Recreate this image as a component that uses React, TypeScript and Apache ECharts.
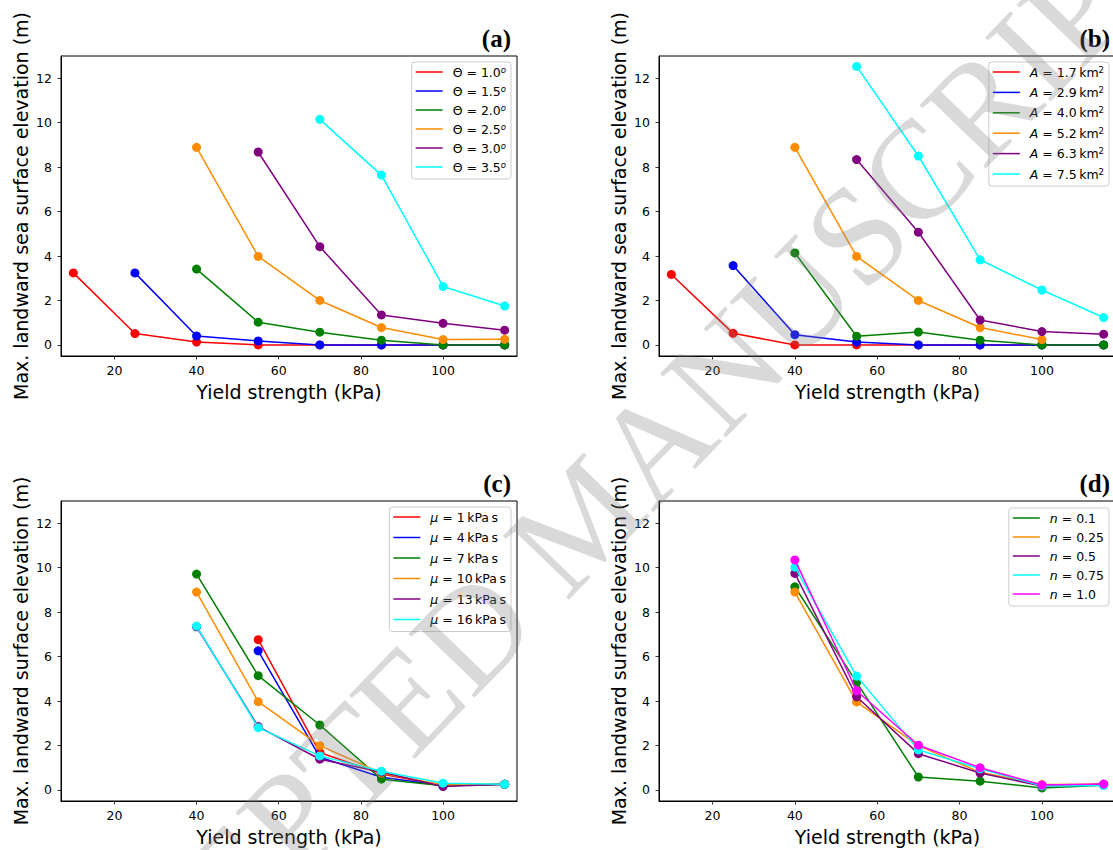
import React, { useEffect, useRef } from 'react';
import * as echarts from 'echarts';

// ---------- data ----------
const yieldStrength = [10, 25, 40, 55, 70, 85, 100, 115];
const xTicks = [20, 40, 60, 80, 100];
const yTicks = [0, 2, 4, 6, 8, 10, 12];
const xTitle = 'Yield strength (kPa)';
const yTitles = [
  'Max. landward sea surface elevation (m)',
  'Max. landward sea surface elevation (m)',
  'Max. landward surface elevation (m)',
  'Max. landward surface elevation (m)',
];
const panelLetters = ['(a)', '(b)', '(c)', '(d)'];

// (a) slope angle
const thetaLabels = ['1.0', '1.5', '2.0', '2.5', '3.0', '3.5'];
const theta10 = [3.24, 0.51, 0.13, 0.0, 0.0, 0.0, 0.0, 0.0];
const theta15 = [null, 3.24, 0.4, 0.18, 0.0, 0.0, 0.0, 0.0];
const theta20 = [null, null, 3.41, 1.02, 0.57, 0.21, 0.0, 0.0];
const theta25 = [null, null, 8.89, 3.98, 2.0, 0.78, 0.24, 0.25];
const theta30 = [null, null, null, 8.68, 4.42, 1.35, 0.97, 0.66];
const theta35 = [null, null, null, null, 10.15, 7.64, 2.63, 1.75];

// (b) slide area
const areaLabels = ['1.7', '2.9', '4.0', '5.2', '6.3', '7.5'];
const area17 = [3.17, 0.52, 0.0, 0.0, 0.0, 0.0, 0.0, 0.0];
const area29 = [null, 3.57, 0.46, 0.13, 0.0, 0.0, 0.0, 0.0];
const area40 = [null, null, 4.14, 0.39, 0.58, 0.21, 0.0, 0.0];
const area52 = [null, null, 8.89, 3.98, 2.0, 0.78, 0.24, null];
const area63 = [null, null, null, 8.34, 5.07, 1.12, 0.6, 0.48];
const area75 = [null, null, null, 12.53, 8.5, 3.83, 2.47, 1.23];

// (c) viscosity
const muLabels = ['1', '4', '7', '10', '13', '16'];
const mu1 = [null, null, null, 6.76, 1.68, 0.72, 0.2, 0.25];
const mu4 = [null, null, null, 6.26, 1.47, 0.57, 0.2, 0.25];
const mu7 = [null, null, 9.71, 5.14, 2.92, 0.48, 0.19, 0.25];
const mu10 = [null, null, 8.9, 3.97, 1.99, 0.76, 0.22, 0.25];
const mu13 = [null, null, 7.34, 2.85, 1.38, 0.8, 0.15, 0.25];
const mu16 = [null, null, 7.37, 2.8, 1.53, 0.84, 0.3, 0.25];

// (d) flow index
const nLabels = ['0.1', '0.25', '0.5', '0.75', '1.0'];
const n01 = [null, null, 9.14, 4.84, 0.58, 0.39, 0.09, 0.21];
const n025 = [null, null, 8.9, 3.96, 1.99, 0.79, 0.24, 0.25];
const n05 = [null, null, 9.74, 4.19, 1.63, 0.76, 0.17, 0.25];
const n075 = [null, null, 10.02, 5.12, 1.8, 0.95, 0.18, 0.2];
const n10 = [null, null, 10.35, 4.46, 2.01, 1.0, 0.22, 0.26];

const watermark = 'ACCEPTED MANUSCRIPT';

// ---------- styling ----------
const RED = '#ff0000';
const BLUE = '#0000ff';
const GREEN = '#008000';
const ORANGE = '#ff8c00';
const PURPLE = '#800080';
const CYAN = '#00ffff';
const MAGENTA = '#ff00ff';
const FONT = '"DejaVu Sans", sans-serif';
const SERIF = '"Liberation Serif", "DejaVu Serif", serif';

const panels = [
  {
    names: thetaLabels.map((t) => `Θ = ${t}`),
    rich: thetaLabels.map((t) => `{g| }Θ = ${t}{supi|o}`),
    values: [theta10, theta15, theta20, theta25, theta30, theta35],
    colors: [RED, BLUE, GREEN, ORANGE, PURPLE, CYAN],
  },
  {
    names: areaLabels.map((a) => `A = ${a} km2`),
    rich: areaLabels.map((a) => `{g| }{i|A} = ${a}\u2009km{sup|2}`),
    values: [area17, area29, area40, area52, area63, area75],
    colors: [RED, BLUE, GREEN, ORANGE, PURPLE, CYAN],
  },
  {
    names: muLabels.map((m) => `μ = ${m} kPa s`),
    rich: muLabels.map((m) => `{g| }{i|μ} = ${m}\u2009kPa\u2009s`),
    values: [mu1, mu4, mu7, mu10, mu13, mu16],
    colors: [RED, BLUE, GREEN, ORANGE, PURPLE, CYAN],
  },
  {
    names: nLabels.map((v) => `n = ${v}`),
    rich: nLabels.map((v) => `{g| }{i|n} = ${v}`),
    values: [n01, n025, n05, n075, n10],
    colors: [GREEN, ORANGE, PURPLE, CYAN, MAGENTA],
  },
];

const grids = [
  { left: 61, top: 56, width: 456, height: 300 },
  { left: 659, top: 56, width: 457, height: 300 },
  { left: 61, top: 501, width: 456, height: 300 },
  { left: 659, top: 501, width: 457, height: 300 },
];
const legendPos = [
  { right: 602, top: 62, itemGap: 5 },
  { right: 4, top: 62, itemGap: 6.4 },
  { right: 602, top: 507, itemGap: 6.5 },
  { right: 4, top: 508, itemGap: 5 },
];

function pairs(vals: (number | null)[]) {
  return yieldStrength
    .map((x, i) => [x, vals[i]])
    .filter((p) => p[1] !== null && p[1] !== undefined);
}

export default function App() {
  const ref = useRef<HTMLDivElement>(null);

  useEffect(() => {
    if (!ref.current) return;
    const chart = echarts.init(ref.current, undefined, { renderer: 'svg' });

    const richMap: Record<string, string> = {};
    panels.forEach((p) => p.names.forEach((n, j) => (richMap[n] = p.rich[j])));

    const tickStyle = { color: '#000', width: 0.8 };
    const labelStyle = { fontSize: 12.5, fontFamily: FONT, color: '#000' };
    const nameStyle = { fontSize: 19, fontFamily: FONT, color: '#000' };

    const series: any[] = [];
    panels.forEach((p, i) => {
      p.values.forEach((vals, j) => {
        series.push({
          type: 'line',
          name: p.names[j],
          xAxisIndex: i,
          yAxisIndex: i,
          data: pairs(vals),
          symbol: 'circle',
          symbolSize: 9,
          showSymbol: true,
          itemStyle: { color: p.colors[j] },
          lineStyle: { color: p.colors[j], width: 1.5 },
          emphasis: { disabled: true },
          z: 2 + j,
        });
      });
    });

    const option: any = {
      animation: false,
      backgroundColor: '#ffffff',
      grid: grids.map((g) => ({
        ...g,
        show: true,
        borderColor: '#000',
        borderWidth: 1,
        backgroundColor: 'transparent',
        containLabel: false,
        outerBoundsMode: 'none',
      })),
      xAxis: grids.map((_, i) => ({
        type: 'value',
        gridIndex: i,
        min: 7,
        max: 118,
        name: xTitle,
        nameLocation: 'middle',
        nameGap: 26,
        nameTextStyle: nameStyle,
        axisLine: { show: true, onZero: false, lineStyle: { color: '#000', width: 1 } },
        axisTick: { show: true, inside: false, length: 3.5, lineStyle: tickStyle, customValues: xTicks },
        axisLabel: { ...labelStyle, margin: 8, customValues: xTicks },
        splitLine: { show: false },
      })),
      yAxis: grids.map((_, i) => ({
        type: 'value',
        gridIndex: i,
        min: -0.5,
        max: 13,
        name: yTitles[i],
        nameLocation: 'middle',
        nameGap: 31,
        nameRotate: 90,
        nameTextStyle: nameStyle,
        axisLine: { show: true, onZero: false, lineStyle: { color: '#000', width: 1 } },
        axisTick: { show: true, inside: false, length: 3.5, lineStyle: tickStyle, customValues: yTicks },
        axisLabel: { ...labelStyle, margin: 9, customValues: yTicks },
        splitLine: { show: false },
      })),
      legend: panels.map((p, i) => ({
        data: p.names,
        orient: 'vertical',
        right: legendPos[i].right,
        top: legendPos[i].top,
        itemGap: legendPos[i].itemGap,
        icon: 'rect',
        itemWidth: 27,
        itemHeight: 1.5,
        padding: [3, 5, 5, 4],
        backgroundColor: 'rgba(255,255,255,0.8)',
        borderColor: '#cccccc',
        borderWidth: 1,
        borderRadius: 3,
        selectedMode: false,
        itemStyle: { borderWidth: 0 },
        formatter: (name: string) => richMap[name] || name,
        textStyle: {
          fontSize: 12.5,
          fontFamily: FONT,
          color: '#000',
          lineHeight: 14,
          rich: {
            g: { width: 5, fontSize: 12.5, fontFamily: FONT, lineHeight: 14 },
            i: { fontStyle: 'italic', fontSize: 12.5, fontFamily: FONT, color: '#000', lineHeight: 14 },
            sup: { fontSize: 8.5, fontFamily: FONT, color: '#000', verticalAlign: 'top', lineHeight: 9 },
            supi: { fontSize: 8.5, fontStyle: 'italic', fontFamily: FONT, color: '#000', verticalAlign: 'top', lineHeight: 9 },
          },
        },
      })),
      series,
      graphic: [
        ...grids.map((g, i) => ({
          type: 'text',
          x: g.left + g.width - 6,
          y: g.top - 18,
          z: 50,
          silent: true,
          style: {
            text: panelLetters[i],
            fontSize: 25,
            fontWeight: 'bold',
            fontFamily: SERIF,
            fill: '#000',
            textAlign: 'right',
            textVerticalAlign: 'middle',
          },
        })),
        {
          type: 'text',
          x: 582,
          y: 518,
          rotation: (46 * Math.PI) / 180,
          z: 1000,
          zlevel: 0,
          silent: true,
          style: {
            text: watermark,
            fontSize: 140,
            fontFamily: SERIF,
            fill: 'rgba(128,128,128,0.3)',
            textAlign: 'center',
            textVerticalAlign: 'middle',
          },
        },
      ],
    };

    chart.setOption(option);
    return () => chart.dispose();
  }, []);

  return (
    <div
      ref={ref}
      style={{ position: 'fixed', left: 0, top: 0, width: 1113, height: 850, background: '#fff' }}
    />
  );
}
